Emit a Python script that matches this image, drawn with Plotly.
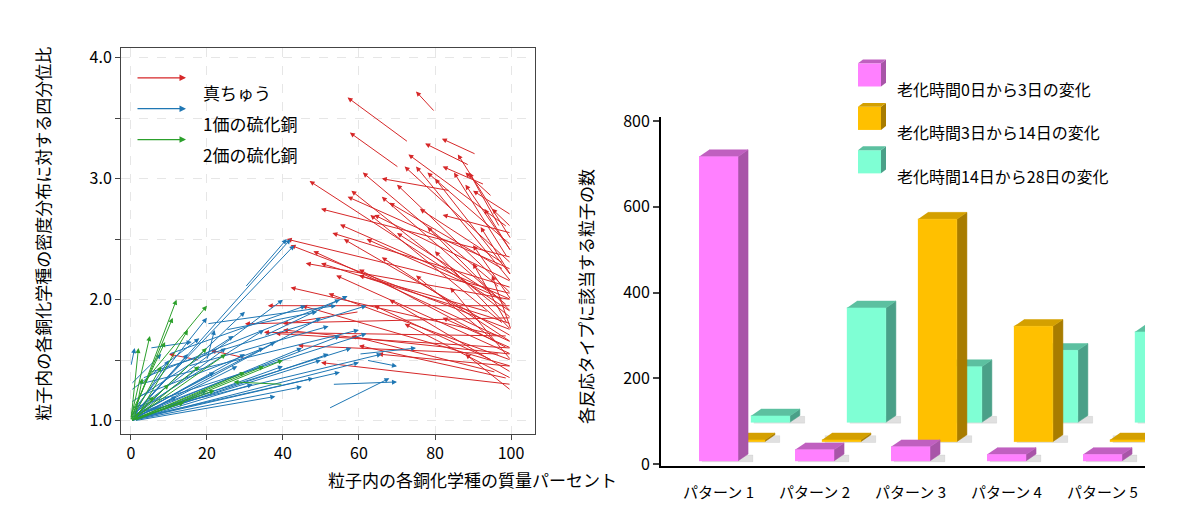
import plotly.graph_objects as go

FONT = "Noto Sans CJK JP"

# ---------------- left panel data: arrows (tail_x, tail_y, head_x, head_y)
brass_arrows = [
    (100,1.45,45,1.95),(100,1.5,52,2.05),(100,1.55,40,1.75),(99,1.6,60,2.25),(100,1.65,48,2.4),
    (100,1.7,56,2.5),(100,1.75,42,2.45),(98,1.8,63,2.7),(100,1.85,58,2.9),(100,1.9,47,2.98),
    (99,1.95,66,2.85),(100,2.0,55,2.62),(100,2.05,70,2.95),(97,2.1,61,3.05),(100,2.15,75,3.1),
    (100,2.2,80,3.0),(98,2.25,68,2.8),(100,2.3,72,3.1),(99,2.35,85,3.05),(100,2.4,88,2.95),
    (100,2.5,86,3.2),(97,2.6,89,3.05),(100,2.7,90,2.9),(95,1.5,64,1.95),(96,1.4,58,1.7),
    (100,1.35,72,1.8),(100,1.3,50,1.48),(97,1.55,44,1.62),(100,1.6,38,1.72),(99,1.7,35,1.73),
    (100,1.8,50,2.3),(100,2.0,46,2.3),(100,2.1,53,2.55),(98,2.0,62,2.5),(100,1.9,78,2.6),
    (100,1.75,80,2.4),(96,1.65,75,2.2),(100,1.5,84,2.1),(100,1.4,68,2.0),(99,1.8,90,2.3),
    (100,2.2,92,2.6),(100,2.4,93,2.75),(95,2.05,70,2.55),(94,1.9,60,2.2),(100,1.45,65,1.55),
    (100,1.25,88,1.55),(100,1.6,82,1.85),(98,2.3,76,2.75),(100,2.55,82,2.7),(100,1.95,36,1.95),
    (100,1.85,30,1.8),(97,1.7,42,2.1),(100,2.15,64,2.7),(100,2.45,78,3.05),(99,2.6,73,3.2),
    (100,2.25,57,2.85),(100,2.0,90,2.45),(100,1.75,95,2.2),(73,3.3,57,3.67),(80,3.55,75,3.72),
    (70.5,3.09,57.6,3.38),(90.8,3.2,81.8,3.33),(89,3.11,77.4,3.29),(84,2.9,66,3.0),(93,2.95,82,3.1),
    (95,2.85,88,3.05),(100,2.6,95,2.75),(60,1.9,40,1.8),(18,1.5,10,1.55),(30,1.52,21,1.58),
    (100,1.55,54,2.2),(100,1.65,66,2.35),(99,1.35,60,1.62),(100,2.35,50,2.75),(100,2.05,41,2.5),
]
cus1_arrows = [
    (1,1.05,42,2.5),(2,1.1,43,2.45),(1,1.08,40,2.0),(0.5,1.02,30,1.9),(1,1.1,20,1.85),
    (0,1.05,35,1.75),(1,1.02,50,1.85),(2,1.06,55,1.7),(1,1.03,45,1.6),(0,1.0,52,1.55),
    (1,1.04,58,1.6),(1,1.05,38,1.65),(0,1.02,25,1.6),(1,1.06,15,1.55),(0,1.03,10,1.5),
    (1,1.02,28,1.45),(0,1.0,40,1.45),(1,1.01,55,1.4),(0,1.0,60,1.48),(1,1.02,48,1.35),
    (0,1.0,32,1.3),(1,1.0,20,1.25),(0,1.0,12,1.2),(0,1.0,45,1.28),(1,1.0,38,1.2),
    (2,1.3,60,1.75),(5,1.4,62,1.95),(3,1.35,55,2.0),(0,1.25,18,1.68),(0,1.3,8,1.55),
    (0,1.45,1,1.6),(10,1.55,46,1.95),(20,1.8,54,1.95),(25,1.75,49,1.9),(15,1.45,52,1.78),
    (30,2.1,41,2.5),(35,1.7,57,2.03),(53,1.3,70,1.32),(52,1.1,68,1.35),(60,1.55,75,1.6),
    (62,1.5,70,1.45),(20,1.5,22,1.75),(5,1.6,16,1.65),(0,1.1,62,1.72),(0,1.05,66,1.55),
    (0,1.02,30,1.55),(1,1.04,22,1.4),(0,1.01,50,1.5),(2,1.2,35,1.6),(0,1.15,27,1.7),
]
cus2_arrows = [
    (0,1.0,12,2.0),(0,1.02,5,1.7),(1,1.0,15,1.75),(0,1.0,8,1.45),(0,1.0,20,1.6),
    (0,1.0,25,1.55),(1,1.02,18,1.45),(0,1.0,10,1.3),(0,1.0,30,1.4),(0,1.0,22,1.25),
    (0,1.0,6,1.2),(0,1.0,14,1.15),(1,1.02,3,1.35),(0,1.0,2,1.6),(0,1.02,11,1.85),
    (0,1.0,35,1.45),(40,1.3,27,1.32),(3,1.3,20,1.95),(0,1.05,9,1.65),(1,1.0,40,1.5),
]
series = [("真ちゅう", brass_arrows, "#d62728"),
          ("1価の硫化銅", cus1_arrows, "#1f77b4"),
          ("2価の硫化銅", cus2_arrows, "#2ca02c")]

# ---------------- right panel data
patterns = ["パターン 1", "パターン 2", "パターン 3", "パターン 4", "パターン 5"]
change_0_3 = [710, 26, 33, 15, 15]
change_3_14 = [4, 4, 519, 269, 4]
change_14_28 = [15, 267, 130, 168, 211]
legend_names = ["老化時間0日から3日の変化", "老化時間3日から14日の変化", "老化時間14日から28日の変化"]

fig = go.Figure()
ann = []

for name, arrs, col in series:
    for (x0, y0, x1, y1) in arrs:
        ann.append(dict(x=x1, y=y1, ax=x0, ay=y0, xref="x", yref="y", axref="x", ayref="y",
                        showarrow=True, arrowhead=2, arrowsize=1, arrowwidth=1,
                        arrowcolor=col, text=""))

# left legend
for i, (name, arrs, col) in enumerate(series):
    py = 63 + i * 32
    ann.append(dict(x=178/1200, y=1-py/518, ax=-50, ay=0, xref="paper", yref="paper",
                    axref="pixel", ayref="pixel", showarrow=True, arrowhead=2, arrowwidth=1.3,
                    arrowcolor=col, text=""))
    ann.append(dict(x=193/1200, y=1-py/518, xref="paper", yref="paper", text=name, showarrow=False,
                    xanchor="left", font=dict(size=17, color="black", family=FONT)))

fig.add_trace(go.Scatter(x=[None], y=[None], xaxis="x", yaxis="y", showlegend=False))

# 3D bars
w, ddx, ddy = 0.406, 0.105, 16
rows = [(change_14_28, 0.54, 97, "#7fffd4", "#4aa088", "#5cc0a0"),
        (change_3_14, 0.28, 52, "#ffc000", "#a87c00", "#d4a000"),
        (change_0_3, 0.0, 7, "#ff80ff", "#a855a8", "#c060c0")]

def face(xs, ys, col):
    fig.add_trace(go.Scatter(x=xs, y=ys, fill="toself", fillcolor=col, mode="lines",
                             line=dict(width=0.5, color=col), xaxis="x2", yaxis="y2",
                             showlegend=False, hoverinfo="skip"))

for vals, off, base, cf, cs, ct in rows:
    for i, h in enumerate(vals):
        x0 = i - w/2 + off
        x1 = x0 + w
        b, t = base, base + h
        face([x0+0.03, x1+ddx+0.05, x1+ddx+0.05, x0+0.03], [b-2, b-2, b+ddy-2, b+ddy-2], "rgba(0,0,0,0.12)")
        face([x1, x1+ddx, x1+ddx, x1], [b, b+ddy, t+ddy, t], cs)
        face([x0, x1, x1+ddx, x0+ddx], [t, t, t+ddy, t+ddy], ct)
        face([x0, x1, x1, x0], [b, b, t, t], cf)

shapes = []
for i, (nm, row) in enumerate(zip(legend_names, rows[::-1])):
    cy = 60 + i * 45
    x0, x1 = 850/1200, 873/1200
    y0, y1 = 1-(cy+12)/518, 1-(cy-12)/518
    shapes.append(dict(type="rect", xref="paper", yref="paper", x0=x0, x1=x1, y0=y0, y1=y1,
                       fillcolor=row[3], line=dict(width=0)))
    shapes.append(dict(type="path", xref="paper", yref="paper",
                       path=f"M{x1},{y0} L{x1+5/1200},{y0+4/518} L{x1+5/1200},{y1+4/518} L{x1},{y1} Z",
                       fillcolor=row[4], line=dict(width=0)))
    shapes.append(dict(type="path", xref="paper", yref="paper",
                       path=f"M{x0},{y1} L{x1},{y1} L{x1+5/1200},{y1+4/518} L{x0+5/1200},{y1+4/518} Z",
                       fillcolor=row[5], line=dict(width=0)))
    ann.append(dict(x=887/1200, y=1-cy/518, xref="paper", yref="paper", text=nm, showarrow=False,
                    xanchor="left", font=dict(size=16, color="black", family=FONT)))

ann.append(dict(x=20/1200, y=1-225/518, xref="paper", yref="paper", text="粒子内の各銅化学種の密度分布に対する四分位比",
                textangle=-90, showarrow=False, font=dict(size=17, color="black", family=FONT)))
ann.append(dict(x=318/1200, y=1-494/518, xref="paper", yref="paper", text="粒子内の各銅化学種の質量パーセント",
                showarrow=False, font=dict(size=17, color="black", family=FONT)))
ann.append(dict(x=578/1200, y=1-290/518, xref="paper", yref="paper", text="各反応タイプに該当する粒子の数",
                textangle=-90, showarrow=False, font=dict(size=17, color="black", family=FONT)))

fig.update_layout(
    width=1200, height=518, margin=dict(l=0, r=0, t=0, b=0),
    plot_bgcolor="white", paper_bgcolor="white",
    font=dict(family=FONT, size=16, color="black"),
    xaxis=dict(domain=[113/1200, 527/1200], range=[-2.6, 106.3], tickvals=[0, 20, 40, 60, 80, 100],
               showgrid=True, gridcolor="#e6e6e6", griddash="dash", zeroline=False,
               showline=True, linecolor="#444", mirror=True, ticks="outside", ticklen=5,
               tickfont=dict(size=16)),
    yaxis=dict(domain=[1-432/518, 1-32/518], range=[0.89, 4.08], tickvals=[1, 2, 3, 4],
               tickformat=".1f", showgrid=True, gridcolor="#e6e6e6", griddash="dash", zeroline=False,
               showline=True, linecolor="#444", mirror=True, ticks="outside", ticklen=5,
               minor=dict(tickvals=[1.5, 2.5, 3.5], ticks="outside", ticklen=5, showgrid=True,
                          gridcolor="#e6e6e6", griddash="dash"),
               tickfont=dict(size=16)),
    xaxis2=dict(domain=[653/1200, 1137/1200], range=[-0.599, 4.443], tickvals=[0, 1, 2, 3, 4],
                ticktext=patterns, showgrid=False, zeroline=False, showline=True, linecolor="black",
                linewidth=2, ticks="", ticklabelstandoff=12, tickfont=dict(size=15), anchor="y2"),
    yaxis2=dict(domain=[1-465/518, 1-103.4/518], range=[-4.5, 810], tickvals=[0, 200, 400, 600, 800],
                showgrid=False, zeroline=False, showline=True, linecolor="black", linewidth=2,
                ticks="outside", ticklen=6, tickwidth=2, tickfont=dict(size=16), anchor="x2"),
    annotations=ann, shapes=shapes, showlegend=False,
)
fig.write_html("out.html")
